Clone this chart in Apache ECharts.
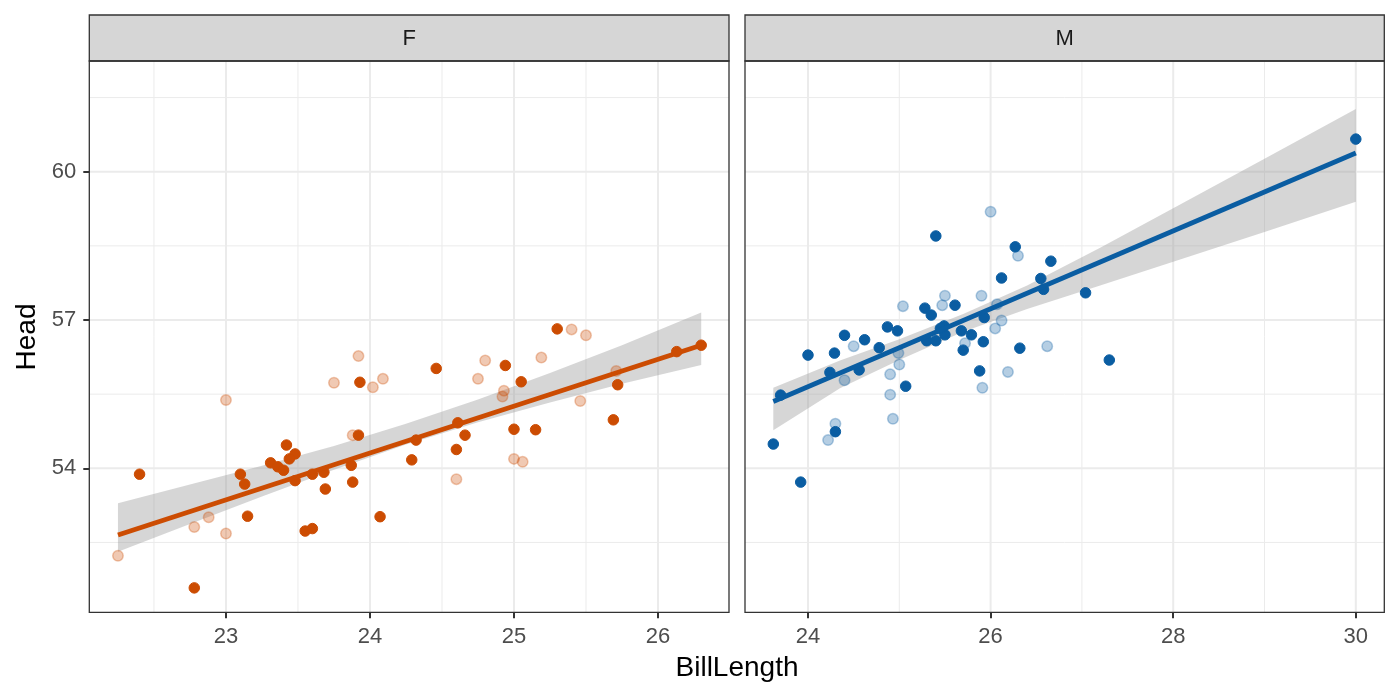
<!DOCTYPE html>
<html>
<head>
<meta charset="utf-8">
<script src="https://cdn.jsdelivr.net/npm/echarts@6.0.0/dist/echarts.min.js"></script>
<style>
html,body{margin:0;padding:0;background:#fff;}
#chart{width:1400px;height:700px;}
</style>
</head>
<body>
<div id="chart"></div>
<script>
// ---------- data ----------
const facets = ['F', 'M'];

// F facet, solid points [BillLength, Head]
const fDark = [
  [23.93,55.74],[23.92,54.67],[22.40,53.88],[23.10,53.88],[23.13,53.68],[23.15,53.03],
  [22.78,51.58],[23.42,54.47],[23.48,54.29],[23.44,54.19],[23.31,54.11],[23.36,54.03],
  [23.40,53.96],[23.48,53.75],[23.60,53.88],[23.68,53.92],[23.69,53.58],[23.55,52.73],
  [23.60,52.78],[23.87,54.06],[23.88,53.72],[24.07,53.02],[24.29,54.17],[24.32,54.57],
  [24.46,56.02],[24.61,54.92],[24.66,54.67],[24.60,54.38],[24.94,56.08],[25.05,55.75],
  [25.00,54.79],[25.15,54.78],[25.30,56.82],[25.72,55.69],[25.69,54.98],[26.13,56.36],
  [26.30,56.49]
];
// F facet, faded points
const fLight = [
  [23.92,56.27],[23.75,55.73],[24.02,55.64],[24.09,55.81],[23.00,55.38],[23.88,54.67],
  [22.88,53.01],[22.78,52.81],[23.00,52.68],[22.25,52.23],[24.60,53.78],[24.80,56.18],
  [24.75,55.81],[24.93,55.57],[24.92,55.45],[25.00,54.19],[25.06,54.13],[25.19,56.24],
  [25.40,56.81],[25.50,56.69],[25.46,55.36],[25.71,55.97]
];
// M facet, solid points
const mDark = [
  [23.62,54.49],[23.92,53.72],[23.70,55.48],[24.00,56.29],[24.24,55.94],[24.29,56.33],
  [24.40,56.69],[24.30,54.74],[24.56,55.99],[24.62,56.60],[24.78,56.44],[24.87,56.86],
  [24.98,56.78],[25.07,55.66],[25.40,58.70],[25.28,57.24],[25.35,57.10],[25.30,56.58],
  [25.40,56.58],[25.50,56.70],[25.49,56.88],[25.45,56.83],[25.61,57.30],[25.68,56.78],
  [25.79,56.70],[25.70,56.39],[25.92,56.56],[25.93,57.05],[25.88,55.97],[26.12,57.85],
  [26.27,58.48],[26.32,56.43],[26.55,57.84],[26.58,57.62],[26.66,58.19],[27.04,57.55],
  [27.30,56.19],[30.00,60.66]
];
// M facet, faded points
const mLight = [
  [26.00,59.19],[26.30,58.30],[25.90,57.49],[25.50,57.49],[25.47,57.30],[25.04,57.28],
  [26.07,57.32],[26.12,56.99],[26.05,56.83],[25.72,56.53],[24.50,56.47],[24.99,56.33],
  [25.00,56.10],[24.90,55.90],[24.90,55.49],[24.93,55.00],[24.40,55.78],[24.30,54.90],
  [24.22,54.57],[25.91,55.63],[26.19,55.95],[26.62,56.47]
];

// fitted lines (end points) and confidence bands, as read
const fLine = [[22.25,52.65],[26.30,56.49]];
const mLine = [[23.62,55.35],[30.00,60.38]];
const fBandX  = [22.25,22.75,23.25,23.75,24.25,24.75,25.25,25.75,26.30];
const fBandLo = [52.31,52.87,53.43,53.97,54.48,54.93,55.33,55.71,56.09];
const fBandHi = [53.29,53.67,54.05,54.45,54.90,55.39,55.93,56.49,57.15];
const mBandX  = [23.62,24.35,25.00,25.70,26.40,27.20,28.00,29.00,30.00];
const mBandLo = [54.77,55.62,56.19,56.76,57.22,57.70,58.18,58.78,59.39];
const mBandHi = [55.63,56.18,56.61,57.12,57.70,58.46,59.26,60.26,61.27];

// axis ticks / grid breaks
const fXTicks = [23, 24, 25, 26];
const fXMinor = [22.5, 23.5, 24.5, 25.5];
const mXTicks = [24, 26, 28, 30];
const mXMinor = [25, 27, 29];
const yTicks = [54, 57, 60];
const yMinor = [52.5, 55.5, 58.5, 61.5];
const fXRange = [22.051, 26.493];
const mXRange = [23.31, 30.312];
const yRange = [51.086, 62.24];

// ---------- styling ----------
const FONT = '"Liberation Sans", Arial, Helvetica, sans-serif';
const ORANGE = '#cc4c02';
const ORANGE_L = 'rgba(204,76,2,0.30)';
const BLUE = '#0a5da2';
const BLUE_L = 'rgba(10,93,162,0.30)';
const GRID_COL = '#ebebeb';

const grids = [
  {left: 89.3, top: 61, width: 639.7, height: 551.3},
  {left: 745, top: 61, width: 639.3, height: 551.3}
];

function gridSeries(idx, xMajor, xMinor) {
  const items = [];
  xMinor.forEach(v => items.push([v, 0, 0]));
  yMinor.forEach(v => items.push([v, 1, 0]));
  xMajor.forEach(v => items.push([v, 0, 1]));
  yTicks.forEach(v => items.push([v, 1, 1]));
  return {
    type: 'custom', xAxisIndex: idx, yAxisIndex: idx, z: 0, silent: true,
    clip: true,
    data: items,
    renderItem: function (params, api) {
      const v = api.value(0), dir = api.value(1), major = api.value(2);
      const cs = params.coordSys;
      let shape;
      if (dir === 0) {
        const x = api.coord([v, 55])[0];
        shape = {x1: x, y1: cs.y, x2: x, y2: cs.y + cs.height};
      } else {
        const y = api.coord([24, v])[1];
        shape = {x1: cs.x, y1: y, x2: cs.x + cs.width, y2: y};
      }
      return {type: 'line', shape: shape,
        style: {stroke: GRID_COL, lineWidth: major ? 2 : 1}};
    }
  };
}

function bandSeries(idx, bx, lo, hi) {
  return {
    type: 'custom', xAxisIndex: idx, yAxisIndex: idx, z: 1, silent: true,
    data: [[bx[0], lo[0]]],
    renderItem: function (params, api) {
      const pts = [];
      for (let i = 0; i < bx.length; i++) pts.push(api.coord([bx[i], hi[i]]));
      for (let i = bx.length - 1; i >= 0; i--) pts.push(api.coord([bx[i], lo[i]]));
      return {type: 'polygon', shape: {points: pts},
        style: {fill: 'rgba(153,153,153,0.4)'}};
    }
  };
}

function scatter(idx, data, col, bcol, bw) {
  return {
    type: 'scatter', xAxisIndex: idx, yAxisIndex: idx, z: 2, silent: true,
    data: data, symbolSize: 10.5,
    itemStyle: {color: col, borderColor: bcol, borderWidth: bw, opacity: 1}
  };
}

function fitLine(idx, data, col) {
  return {
    type: 'line', xAxisIndex: idx, yAxisIndex: idx, z: 3, silent: true,
    data: data, showSymbol: false, symbol: 'none',
    lineStyle: {color: col, width: 4.8, cap: 'butt'}
  };
}

function xAxis(idx, range, ticks) {
  return {
    type: 'value', gridIndex: idx, min: range[0], max: range[1],
    axisLine: {show: false}, splitLine: {show: false},
    axisTick: {show: true, customValues: ticks, length: 6, inside: false,
      lineStyle: {color: '#333333', width: 2}},
    axisLabel: {show: true, customValues: ticks, color: '#4d4d4d', fontSize: 22,
      fontFamily: FONT, margin: 14}
  };
}
function yAxis(idx, showLabels) {
  return {
    type: 'value', gridIndex: idx, min: yRange[0], max: yRange[1],
    axisLine: {show: false}, splitLine: {show: false},
    axisTick: {show: showLabels, customValues: yTicks, length: 6,
      lineStyle: {color: '#333333', width: 2}},
    axisLabel: {show: showLabels, customValues: yTicks, color: '#4d4d4d', fontSize: 22,
      fontFamily: FONT, margin: 13}
  };
}

const chart = echarts.init(document.getElementById('chart'), null, {renderer: 'canvas'});

const graphics = [];
grids.forEach((g, i) => {
  graphics.push({type: 'rect', silent: true, z: 10,
    shape: {x: g.left, y: 15, width: g.width, height: 46},
    style: {fill: '#d6d6d6', stroke: '#333333', lineWidth: 1.3}});
  graphics.push({type: 'text', silent: true, z: 11,
    x: g.left + g.width / 2, y: 38.5,
    style: {text: facets[i], fontSize: 22, fontFamily: FONT, fill: '#1a1a1a',
      align: 'center', verticalAlign: 'middle'}});
  graphics.push({type: 'rect', silent: true, z: 10,
    shape: {x: g.left, y: g.top, width: g.width, height: g.height},
    style: {fill: 'none', stroke: '#333333', lineWidth: 1.3}});
});
graphics.push({type: 'text', silent: true, z: 11, x: 737, y: 668,
  style: {text: 'BillLength', fontSize: 28, fontFamily: FONT, fill: '#000',
    align: 'center', verticalAlign: 'middle'}});
graphics.push({type: 'text', silent: true, z: 11, x: 27, y: 337, rotation: Math.PI / 2,
  style: {text: 'Head', fontSize: 28, fontFamily: FONT, fill: '#000',
    align: 'center', verticalAlign: 'middle'}});

chart.setOption({
  animation: false,
  backgroundColor: '#ffffff',
  grid: grids.map(g => Object.assign({show: true, backgroundColor: '#fff', borderWidth: 0}, g)),
  xAxis: [xAxis(0, fXRange, fXTicks), xAxis(1, mXRange, mXTicks)],
  yAxis: [yAxis(0, true), yAxis(1, false)],
  graphic: graphics,
  series: [
    gridSeries(0, fXTicks, fXMinor),
    gridSeries(1, mXTicks, mXMinor),
    bandSeries(0, fBandX, fBandLo, fBandHi),
    bandSeries(1, mBandX, mBandLo, mBandHi),
    scatter(0, fLight, ORANGE_L, ORANGE_L, 1.5),
    scatter(0, fDark, ORANGE, ORANGE, 1),
    scatter(1, mLight, BLUE_L, BLUE_L, 1.5),
    scatter(1, mDark, BLUE, BLUE, 1),
    fitLine(0, fLine, ORANGE),
    fitLine(1, mLine, BLUE)
  ]
});
</script>
</body>
</html>
